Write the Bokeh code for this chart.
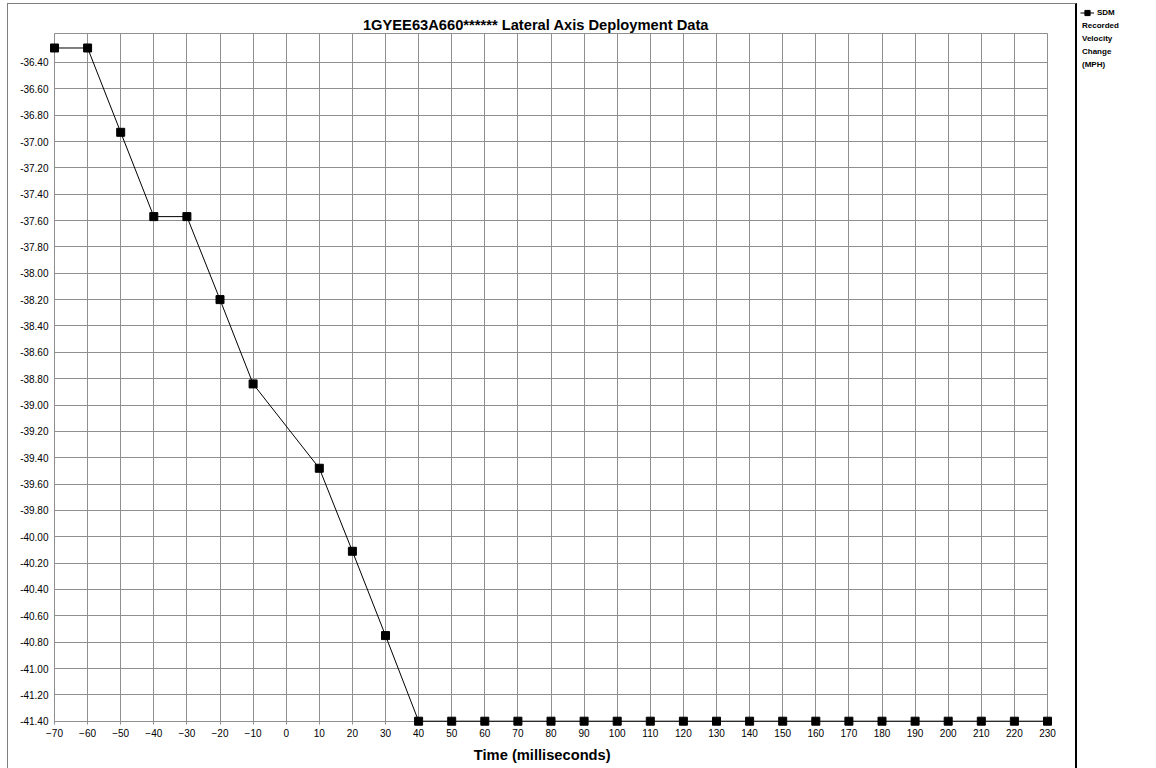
from bokeh.plotting import figure
from bokeh.models import (FixedTicker, PrintfTickFormatter, Legend, LegendItem,
                          Range1d, InlineStyleSheet, Label, Title)
from bokeh.embed import file_html
from bokeh.resources import INLINE

# ---- data -------------------------------------------------------------
time_ms = [-70, -60, -50, -40, -30, -20, -10, 10, 20, 30, 40, 50, 60, 70, 80,
           90, 100, 110, 120, 130, 140, 150, 160, 170, 180, 190, 200, 210, 220, 230]
velocity_mph = [-36.29, -36.29, -36.93, -37.57, -37.57, -38.20, -38.84, -39.48,
                -40.11, -40.75, -41.40, -41.40, -41.40, -41.40, -41.40, -41.40,
                -41.40, -41.40, -41.40, -41.40, -41.40, -41.40, -41.40, -41.40,
                -41.40, -41.40, -41.40, -41.40, -41.40, -41.40]
x_ticks = [-70, -60, -50, -40, -30, -20, -10, 0, 10, 20, 30, 40, 50, 60, 70, 80,
           90, 100, 110, 120, 130, 140, 150, 160, 170, 180, 190, 200, 210, 220, 230]
y_ticks = [-41.40, -41.20, -41.00, -40.80, -40.60, -40.40, -40.20, -40.00,
           -39.80, -39.60, -39.40, -39.20, -39.00, -38.80, -38.60, -38.40,
           -38.20, -38.00, -37.80, -37.60, -37.40, -37.20, -37.00, -36.80,
           -36.60, -36.40]
x_min, x_max = -70, 230
y_min, y_max = -41.40, -36.18
title_text = "1GYEE63A660******  Lateral Axis Deployment Data"
x_title = "Time (milliseconds)"
legend_lines = ["SDM", "Recorded", "Velocity", "Change", "(MPH)"]

FONT = "Liberation Sans"
GRID = "#8f8f8f"

# ---- geometry (pixels) ------------------------------------------------
W, H = 1156, 768
PLOT_L, PLOT_R, PLOT_T, PLOT_B = 54, 1047, 33, 720.7   # visible plot box
FR_L, FR_R, FR_T, FR_B = 49, W, 0, 726                 # drawing frame
xs = (PLOT_R - PLOT_L) / (x_max - x_min)
ys = (PLOT_B - PLOT_T) / (y_max - y_min)
x_range = Range1d(x_min - (PLOT_L - FR_L) / xs, x_max + (FR_R - PLOT_R) / xs)
y_range = Range1d(y_min - (FR_B - PLOT_B) / ys, y_max + (PLOT_T - FR_T) / ys)


def px_to_x(px):
    return x_min + (px - PLOT_L) / xs


def px_to_y(py):
    return y_max - (py - PLOT_T) / ys


# chart-area border (grey top/left, black separator before the legend)
border_css = InlineStyleSheet(css="""
:host::after {
  content: "";
  position: absolute;
  left: 7px; top: 3px;
  width: 1070px; height: 765px;
  box-sizing: border-box;
  border-left: 1px solid #808080;
  border-top: 1px solid #808080;
  border-right: 2px solid #000000;
  pointer-events: none;
}
""")

p = figure(width=W, height=H, output_backend="svg", toolbar_location=None,
           x_range=x_range, y_range=y_range,
           min_border_left=FR_L, min_border_right=W - FR_R,
           min_border_top=FR_T, min_border_bottom=H - FR_B,
           stylesheets=[border_css])
p.title.visible = False

p.border_fill_color = "white"
p.background_fill_color = "white"
p.outline_line_color = None

# chart title (centred over the chart area)
p.add_layout(Label(x=px_to_x(537.5), y=px_to_y(24), text=title_text,
                   text_font=FONT, text_font_size="14.7px",
                   text_font_style="bold", text_color="black",
                   text_align="center", text_baseline="alphabetic"))

# axes
p.xaxis.ticker = FixedTicker(ticks=x_ticks)
p.yaxis.ticker = FixedTicker(ticks=y_ticks)
p.yaxis.formatter = PrintfTickFormatter(format="%.2f")
for ax in (p.xaxis[0], p.yaxis[0]):
    ax.axis_line_color = None
    ax.major_label_text_font = FONT
    ax.major_label_text_font_size = "10px"
    ax.major_label_text_color = "black"
    ax.minor_tick_line_color = None
    ax.major_tick_line_color = None
    ax.major_tick_out = 0
    ax.major_tick_in = 0
p.xaxis.major_label_standoff = 2
p.yaxis.major_label_standoff = 1

# x-axis title, centred under the chart area (not under the wider frame)
p.add_layout(Title(text=x_title, align="left", offset=473.3 - FR_L,
                   vertical_align="bottom", standoff=11,
                   text_font=FONT, text_font_size="14.7px",
                   text_font_style="bold", text_color="black"), "below")

# grid (also forms the plot-area box)
p.xgrid.grid_line_color = GRID
p.ygrid.grid_line_color = GRID
p.xgrid.ticker = FixedTicker(ticks=x_ticks)
p.ygrid.ticker = FixedTicker(ticks=y_ticks + [y_max])
p.xgrid.cross_bounds = (y_min - 3 / ys, y_max)
p.ygrid.cross_bounds = (x_min, x_max)

# series
ln = p.line(time_ms, velocity_mph, line_color="black", line_width=1)
sc = p.scatter(time_ms, velocity_mph, marker="square", size=8,
               fill_color="black", line_color="black")
blank = p.scatter([], [], marker="square", size=1, alpha=0)

# legend: first word beside the glyph, the rest wrapped underneath
LEG_PITCH = 13
LEG_TOP = 6.2
leg_style = dict(padding=0, margin=0, spacing=0, label_height=LEG_PITCH,
                 label_text_font=FONT, label_text_font_size="8px",
                 label_text_font_style="bold", label_text_color="black",
                 border_line_color=None, background_fill_alpha=0)
legend_a = Legend(items=[LegendItem(label=legend_lines[0], renderers=[ln, sc])],
                  location=(1080 - FR_L, FR_B - LEG_TOP - LEG_PITCH),
                  glyph_width=14, glyph_height=LEG_PITCH, label_standoff=3,
                  **leg_style)
rest = legend_lines[1:]
legend_b = Legend(items=[LegendItem(label=t, renderers=[blank]) for t in rest],
                  location=(1082 - FR_L, FR_B - LEG_TOP - LEG_PITCH * (1 + len(rest))),
                  glyph_width=0, glyph_height=LEG_PITCH, label_standoff=0,
                  **leg_style)
p.add_layout(legend_a, "center")
p.add_layout(legend_b, "center")

open("out.html", "w").write(file_html(p, INLINE))
